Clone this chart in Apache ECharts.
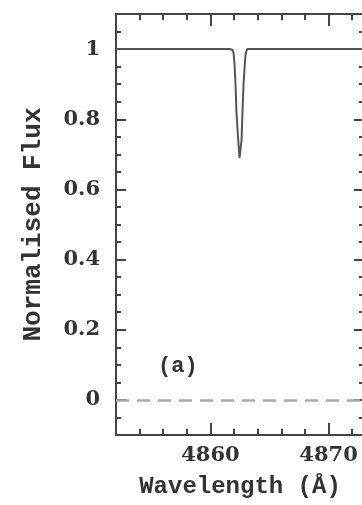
<!DOCTYPE html>
<html>
<head>
<meta charset="utf-8">
<script src="https://cdn.jsdelivr.net/npm/echarts@6/dist/echarts.min.js"></script>
<style>
  html, body { margin: 0; padding: 0; background: #fff; }
  #chart { width: 362px; height: 505px; }
</style>
</head>
<body>
<div id="chart"></div>
<script>
// spectrum (wavelength in Angstrom, normalised flux)
var wavelength = [4852, 4861.6, 4861.85, 4861.95, 4862.03, 4862.12, 4862.2, 4862.33, 4862.46, 4862.53, 4862.63, 4862.72, 4862.8, 4862.89, 4862.97, 4863.1, 4873]
var flux = [1, 1, 0.998, 0.99, 0.96, 0.9, 0.82, 0.75, 0.69, 0.685, 0.74, 0.83, 0.9, 0.95, 0.985, 1, 1]
var xRange = [4852, 4873]
var yRange = [-0.1, 1.1]
var zeroLevel = 0
var panelLabel = '(a)'

var points = wavelength.map(function (w, i) {
  return [w, flux[i]]
})

var lineColor = '#444'
var tickFont = 'DejaVu Serif'
var nameFont = 'Liberation Mono'

function xAx(pos, minor) {
  var ax = {
    type: 'value',
    position: pos,
    min: xRange[0],
    max: xRange[1],
    splitLine: { show: false },
    axisLine: { show: !minor, onZero: false, lineStyle: { color: lineColor, width: 2 } },
    axisTick: { inside: true, length: minor ? 6 : 12, lineStyle: { color: lineColor, width: 2 } },
    axisLabel: { show: false },
  }
  if (minor) ax.interval = 2
  else ax.splitNumber = 2
  return ax
}

function yAx(pos, minor) {
  var ax = {
    type: 'value',
    position: pos,
    min: yRange[0],
    max: yRange[1],
    splitLine: { show: false },
    axisLine: { show: !minor, onZero: false, lineStyle: { color: lineColor, width: 2 } },
    axisTick: { inside: true, length: minor ? 5 : 10, lineStyle: { color: lineColor, width: 2 } },
    axisLabel: { show: false },
  }
  if (minor) ax.interval = 0.05
  else ax.splitNumber = 6
  return ax
}

var xBottom = xAx('bottom', false)
xBottom.axisLabel = {
  show: true,
  margin: 10,
  color: '#333',
  fontFamily: tickFont,
  fontWeight: 'bold',
  fontSize: 21,
  formatter: function (v) {
    return Math.abs(v % 10) < 1e-6 ? String(v) : ''
  },
}
xBottom.name = 'Wavelength (Å)'
xBottom.nameLocation = 'middle'
xBottom.nameGap = 40
xBottom.nameTextStyle = { color: '#333', fontFamily: nameFont, fontWeight: 'bold', fontSize: 24 }

var yLeft = yAx('left', false)
yLeft.axisLabel = {
  show: true,
  margin: 16,
  color: '#333',
  fontFamily: tickFont,
  fontWeight: 'bold',
  fontSize: 21,
  formatter: function (v) {
    var k = v / 0.2
    if (Math.abs(k - Math.round(k)) > 1e-6) return ''
    var r = Math.round(k) * 0.2
    return String(Math.round(r * 10) / 10)
  },
}
yLeft.name = 'Normalised Flux'
yLeft.nameLocation = 'middle'
yLeft.nameGap = 70
yLeft.nameTextStyle = { color: '#333', fontFamily: nameFont, fontWeight: 'bold', fontSize: 26 }

var chart = echarts.init(document.getElementById('chart'))
chart.setOption({
  animation: false,
  backgroundColor: '#fff',
  title: {
    text: panelLabel,
    left: 153,
    top: 350,
    textStyle: { color: '#333', fontFamily: nameFont, fontWeight: 'bold', fontSize: 22 },
  },
  grid: { left: 116, top: 14, right: -2, bottom: 70, outerBoundsMode: 'none', containLabel: false },
  xAxis: [xBottom, xAx('bottom', true), xAx('top', false), xAx('top', true)],
  yAxis: [yLeft, yAx('left', true), yAx('right', false), yAx('right', true)],
  series: [
    {
      type: 'line',
      xAxisIndex: 0,
      yAxisIndex: 0,
      data: points,
      symbol: 'none',
      lineStyle: { color: '#555', width: 2 },
      markLine: {
        silent: true,
        symbol: 'none',
        label: { show: false },
        lineStyle: { color: '#aaa', width: 2.5, type: [13, 8] },
        data: [{ yAxis: zeroLevel }],
      },
    },
  ],
})
</script>
</body>
</html>
